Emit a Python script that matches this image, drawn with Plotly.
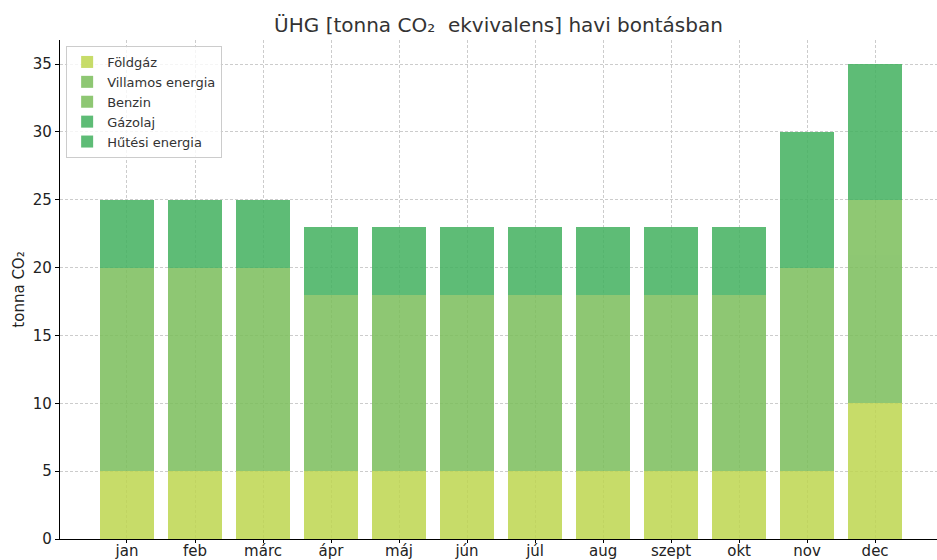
import plotly.graph_objects as go

months = ["jan", "feb", "márc", "ápr", "máj", "jún", "júl", "aug", "szept", "okt", "nov", "dec"]
foldgaz = [5, 5, 5, 5, 5, 5, 5, 5, 5, 5, 5, 10]
villamos = [15, 15, 15, 13, 13, 13, 13, 13, 13, 13, 15, 15]
benzin = [0] * 12
gazolaj = [0] * 12
hutesi = [5, 5, 5, 5, 5, 5, 5, 5, 5, 5, 10, 10]

series = [
    ("Földgáz", foldgaz, "rgb(190,214,80)"),
    ("Villamos energia", villamos, "rgb(123,190,91)"),
    ("Benzin", benzin, "rgb(123,190,91)"),
    ("Gázolaj", gazolaj, "rgb(67,177,95)"),
    ("Hűtési energia", hutesi, "rgb(67,177,95)"),
]

fig = go.Figure()
for name, vals, col in series:
    fig.add_trace(go.Bar(x=list(range(len(months))), y=vals, name=name,
                         marker=dict(color=col, line=dict(width=0)),
                         opacity=0.85, width=0.8))

fig.update_layout(
    width=937, height=560,
    barmode="stack",
    plot_bgcolor="white", paper_bgcolor="white",
    font=dict(family="DejaVu Sans", color="#222222", size=15),
    margin=dict(l=60, r=0, t=40, b=21, autoexpand=False),
    title=dict(text="ÜHG [tonna CO₂  ekvivalens] havi bontásban", x=0.532, xanchor="center",
               y=0.955, yanchor="middle", font=dict(size=20, color="#333333")),
    showlegend=True,
    legend=dict(x=0.007, y=0.988, xanchor="left", yanchor="top", traceorder="normal",
                bgcolor="rgba(255,255,255,0.8)", bordercolor="#cccccc", borderwidth=1,
                font=dict(size=13, color="#333333"), tracegroupgap=0, itemwidth=30),
    bargap=0.2,
)
fig.update_xaxes(
    tickmode="array", tickvals=list(range(len(months))), ticktext=months,
    range=[-0.985, 11.91], showgrid=True, gridcolor="#cccccc", griddash="3px,2px", gridwidth=1,
    showline=True, linecolor="black", linewidth=1.2, ticks="outside", ticklen=3,
    tickcolor="black", zeroline=False, tickfont=dict(size=15), automargin=False,
    ticklabelstandoff=-5,
)
fig.update_yaxes(
    range=[0, 36.77], dtick=5, showgrid=True, gridcolor="#cccccc", griddash="3px,2px", gridwidth=1,
    showline=True, linecolor="black", linewidth=1.2, ticks="outside", ticklen=4,
    tickcolor="black", zeroline=False, tickfont=dict(size=15), automargin=False,
    title=dict(text="tonna CO₂", font=dict(size=15), standoff=4),
)
fig.write_html("out.html", config={"displayModeBar": False},
               post_script="document.body.style.margin='0px';document.body.style.padding='0px';")
